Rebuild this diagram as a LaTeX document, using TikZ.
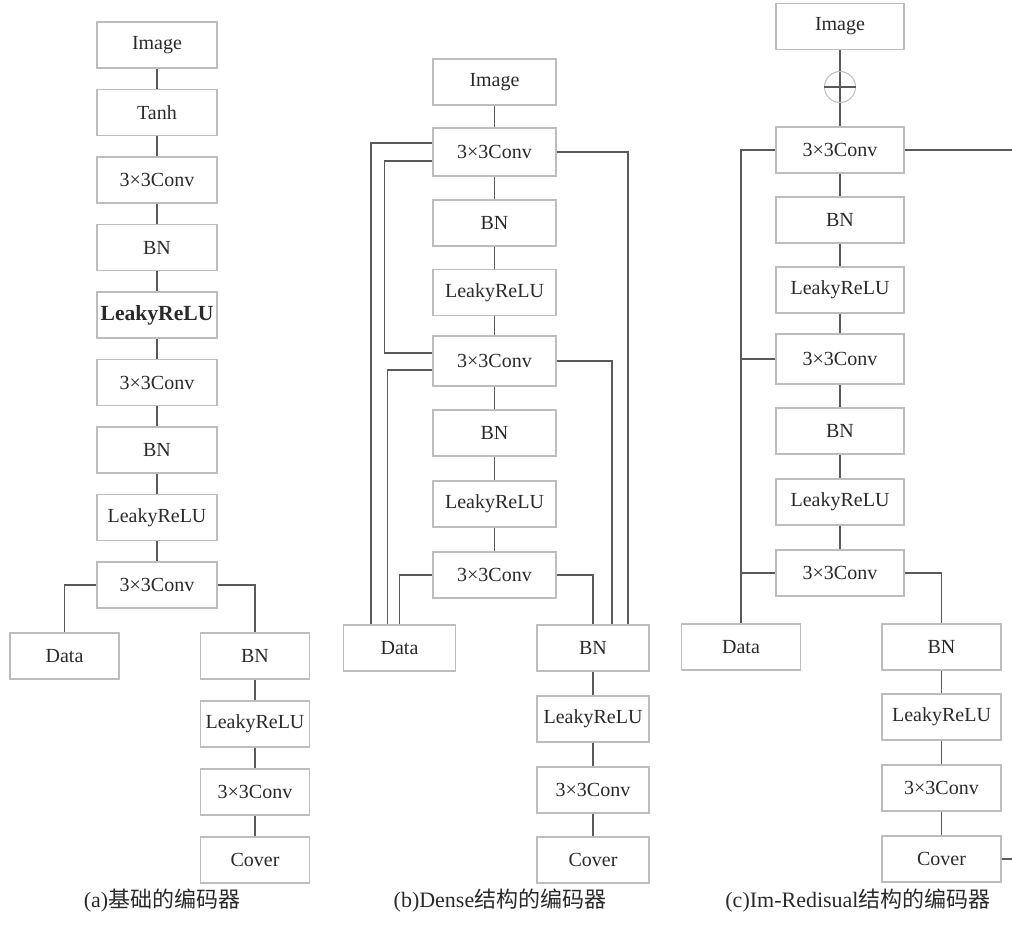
\documentclass[tikz,border=0pt]{standalone}
\usepackage{fontspec}
\setmainfont{Liberation Serif}
\newfontfamily\cjk{Noto Sans CJK SC}
\usetikzlibrary{calc}
\definecolor{boxgray}{HTML}{BDBDBD}
\definecolor{linegray}{HTML}{5A5A5A}
\definecolor{txt}{HTML}{2A2A2A}
\begin{document}
\begin{tikzpicture}[x=0.5pt,y=-0.5pt,
  blk/.style={draw=boxgray, line width=0.6pt, minimum height=23pt, inner sep=0pt,
    text=txt, font=\fontsize{10}{12}\selectfont},
  wa/.style={blk, minimum width=60pt},
  wal/.style={blk, minimum width=54.5pt},
  wb/.style={blk, minimum width=61.5pt},
  wbl/.style={blk, minimum width=56pt},
  wc/.style={blk, minimum width=64pt},
  wcl/.style={blk, minimum width=59.5pt},
  conn/.style={draw=linegray, line width=0.75pt},
  captext/.style={text=txt, font=\fontsize{11}{13}\selectfont, inner sep=0pt}]
\useasboundingbox (0,0) rectangle (1012,927);
% ---------------- panel (a)
\node[wa] (a1) at (157,45) {Image};
\node[wa] (a2) at (157,112.5) {Tanh};
\node[wa] (a3) at (157,180) {3×3Conv};
\node[wa] (a4) at (157,247.5) {BN};
\node[wa] (a5) at (157,315) {\fontsize{10.8}{12}\selectfont\bfseries LeakyReLU};
\node[wa] (a6) at (157,382.5) {3×3Conv};
\node[wa] (a7) at (157,450) {BN};
\node[wa] (a8) at (157,517.5) {LeakyReLU};
\node[wa] (a9) at (157,585) {3×3Conv};
\node[wal] (aD) at (64.5,656) {Data};
\node[wal] (aB) at (255,656) {BN};
\node[wal] (aL) at (255,724) {LeakyReLU};
\node[wal] (aC) at (255,792) {3×3Conv};
\node[wal] (aV) at (255,860) {Cover};
\draw[conn] (a1) -- (a2) -- (a3) -- (a4) -- (a5) -- (a6) -- (a7) -- (a8) -- (a9);
\draw[conn] (a9.west) -| (aD.north);
\draw[conn] (a9.east) -| (aB.north);
\draw[conn] (aB) -- (aL) -- (aC) -- (aV);
% ---------------- panel (b)
\node[wb] (b1) at (494.5,82) {Image};
\node[wb,minimum height=24pt] (b2) at (494.5,152) {3×3Conv};
\node[wb] (b3) at (494.5,223) {BN};
\node[wb] (b4) at (494.5,292.5) {LeakyReLU};
\node[wb,minimum height=25pt] (b5) at (494.5,361) {3×3Conv};
\node[wb] (b6) at (494.5,433) {BN};
\node[wb] (b7) at (494.5,504) {LeakyReLU};
\node[wb] (b8) at (494.5,575) {3×3Conv};
\node[wbl] (bD) at (399.5,648) {Data};
\node[wbl] (bB) at (593,648) {BN};
\node[wbl] (bL) at (593,719) {LeakyReLU};
\node[wbl] (bC) at (593,790) {3×3Conv};
\node[wbl] (bV) at (593,860) {Cover};
\draw[conn] (b1) -- (b2) -- (b3) -- (b4) -- (b5) -- (b6) -- (b7) -- (b8);
\draw[conn] ([yshift=4.5pt]b2.west) -| ([xshift=-14.25pt]bD.north);
\draw[conn] ([yshift=-4.5pt]b2.west) -| ([xshift=-24pt,yshift=4pt]b5.west) -- ([yshift=4pt]b5.west);
\draw[conn] ([yshift=-4.5pt]b5.west) -| ([xshift=-6pt]bD.north);
\draw[conn] (b8.west) -| (bD.north);
\draw[conn] (b2.east) -| ([xshift=17.5pt]bB.north);
\draw[conn] (b5.east) -| ([xshift=9.5pt]bB.north);
\draw[conn] (b8.east) -| (bB.north);
\draw[conn] (bB) -- (bL) -- (bC) -- (bV);
% ---------------- panel (c)
\coordinate (re) at (1012,0);
\node[wc] (c0) at (840,26.5) {Image};
\node[wc] (c1) at (840,150) {3×3Conv};
\node[wc] (c2) at (840,220) {BN};
\node[wc] (c3) at (840,290) {LeakyReLU};
\node[wc,minimum height=25pt] (c4) at (840,359) {3×3Conv};
\node[wc] (c5) at (840,431) {BN};
\node[wc] (c6) at (840,502) {LeakyReLU};
\node[wc] (c7) at (840,573) {3×3Conv};
\node[wcl] (cD) at (741,647) {Data};
\node[wcl] (cB) at (941.5,647) {BN};
\node[wcl] (cL) at (941.5,717) {LeakyReLU};
\node[wcl] (cC) at (941.5,788) {3×3Conv};
\node[wcl] (cV) at (941.5,859) {Cover};
\draw[conn] (c0) -- (c1);
\node[circle, draw=boxgray, line width=0.5pt, minimum size=15.5pt, inner sep=0pt] (cs) at (840,87) {};
\draw[conn] (cs.west) -- (cs.east);
\draw[conn] (c1) -- (c2) -- (c3) -- (c4) -- (c5) -- (c6) -- (c7);
\draw[conn] (c1.west) -| (cD.north);
\draw[conn] (c4.west) -- (c4.west -| cD.north);
\draw[conn] (c7.west) -- (c7.west -| cD.north);
\draw[conn] (c7.east) -| (cB.north);
\draw[conn] (cB) -- (cL) -- (cC) -- (cV);
\draw[conn] (c1.east) -- (c1.east -| re);
\draw[conn] (cV.east) -- (cV.east -| re);
% ---------------- captions
\node[captext] (capa) at (162,901) {(a){\cjk 基础的编码器}};
\node[captext] (capb) at (500,901) {(b)Dense{\cjk 结构的编码器}};
\node[captext] (capc) at (858,901) {(c)Im-Redisual{\cjk 结构的编码器}};
\end{tikzpicture}
\end{document}
